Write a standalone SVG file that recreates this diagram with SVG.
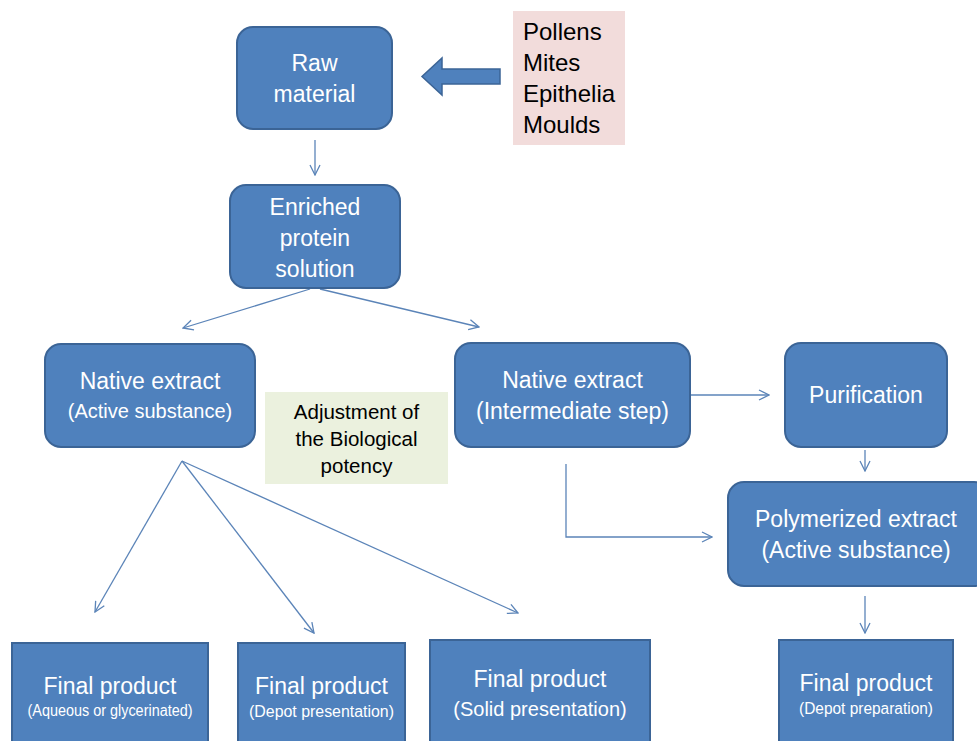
<svg xmlns="http://www.w3.org/2000/svg" width="977" height="741" viewBox="0 0 977 741">
<defs>
<style>
.box{fill:#4F81BD;stroke:#3B6496;stroke-width:2}
.t{fill:#fff;font-family:"Liberation Sans",Arial,sans-serif;font-size:23px;text-anchor:middle}
.s{font-size:16px}
.k{fill:#000;font-family:"Liberation Sans",Arial,sans-serif}
.c{fill:none;stroke:#5B84B8;stroke-width:1.3}
</style>
<marker id="ah" viewBox="0 0 12 12" refX="11" refY="6" markerWidth="12" markerHeight="12" markerUnits="userSpaceOnUse" orient="auto">
<path d="M1,1 L11,6 L1,11" fill="none" stroke="#5B84B8" stroke-width="1.3"/>
</marker>
</defs>
<rect width="977" height="741" fill="#fff"/>

<g id="connectors">
<line class="c" x1="315" y1="140" x2="315" y2="175" marker-end="url(#ah)"/>
<line class="c" x1="310" y1="289" x2="183" y2="328" marker-end="url(#ah)"/>
<line class="c" x1="320" y1="289" x2="479" y2="327" marker-end="url(#ah)"/>
<line class="c" x1="691" y1="395" x2="769" y2="395" marker-end="url(#ah)"/>
<line class="c" x1="865" y1="450" x2="865" y2="471" marker-end="url(#ah)"/>
<polyline class="c" points="566,464 566,537 712,537" marker-end="url(#ah)"/>
<line class="c" x1="865" y1="596" x2="865" y2="633" marker-end="url(#ah)"/>
<line class="c" x1="182" y1="461" x2="95" y2="612" marker-end="url(#ah)"/>
<line class="c" x1="182" y1="461" x2="314" y2="633" marker-end="url(#ah)"/>
<line class="c" x1="182" y1="461" x2="518" y2="613" marker-end="url(#ah)"/>
<path id="block-arrow" d="M500,69 L442,69 L442,58 L422,76.5 L442,95 L442,84 L500,84 Z" fill="#4F81BD" stroke="#3B6496" stroke-width="1.5"/>
</g>

<g id="raw-material">
<rect class="box" x="237" y="27" width="155" height="102" rx="16"/>
<text class="t" x="314.5" y="71">Raw</text>
<text class="t" x="314.5" y="102">material</text>
</g>

<g id="sources">
<rect x="513" y="11" width="112" height="134" fill="#F2DCDB"/>
<text class="k" x="523" y="40" style="font-size:24px">Pollens</text>
<text class="k" x="523" y="71" style="font-size:24px">Mites</text>
<text class="k" x="523" y="102" style="font-size:24px">Epithelia</text>
<text class="k" x="523" y="133" style="font-size:24px">Moulds</text>
</g>

<g id="enriched">
<rect class="box" x="230" y="185" width="170" height="103" rx="16"/>
<text class="t" x="315" y="215">Enriched</text>
<text class="t" x="315" y="246">protein</text>
<text class="t" x="315" y="277">solution</text>
</g>

<g id="native-active">
<rect class="box" x="45" y="344" width="210" height="103" rx="16"/>
<text class="t" x="150" y="389">Native extract</text>
<text class="t" x="150" y="418" style="font-size:20px">(Active substance)</text>
</g>

<g id="adjustment">
<rect x="265" y="392" width="183" height="92" fill="#EBF1DE"/>
<text class="k" x="356.5" y="419" style="font-size:20.5px;text-anchor:middle">Adjustment of</text>
<text class="k" x="356.5" y="446" style="font-size:20.5px;text-anchor:middle">the Biological</text>
<text class="k" x="356.5" y="473" style="font-size:20.5px;text-anchor:middle">potency</text>
</g>

<g id="native-intermediate">
<rect class="box" x="455" y="343" width="235" height="104" rx="16"/>
<text class="t" x="572.5" y="388">Native extract</text>
<text class="t" x="572.5" y="419">(Intermediate step)</text>
</g>

<g id="purification">
<rect class="box" x="785" y="343" width="162" height="104" rx="16"/>
<text class="t" x="866" y="403">Purification</text>
</g>

<g id="polymerized">
<rect class="box" x="728" y="482" width="262" height="104" rx="16"/>
<text class="t" x="856" y="527">Polymerized extract</text>
<text class="t" x="856" y="558">(Active substance)</text>
</g>

<g id="final-aqueous">
<rect class="box" x="12" y="643" width="196" height="110"/>
<text class="t" x="110" y="694">Final product</text>
<text class="t s" x="110" y="716" textLength="165" lengthAdjust="spacingAndGlyphs">(Aqueous or glycerinated)</text>
</g>

<g id="final-depot-presentation">
<rect class="box" x="238" y="643" width="167" height="110"/>
<text class="t" x="321.5" y="694">Final product</text>
<text class="t s" x="321.5" y="717" textLength="145" lengthAdjust="spacingAndGlyphs">(Depot presentation)</text>
</g>

<g id="final-solid">
<rect class="box" x="430" y="640" width="220" height="110"/>
<text class="t" x="540" y="687">Final product</text>
<text class="t" x="540" y="716" style="font-size:20px">(Solid presentation)</text>
</g>

<g id="final-depot-preparation">
<rect class="box" x="779" y="640" width="174" height="110"/>
<text class="t" x="866" y="691">Final product</text>
<text class="t s" x="866" y="714" textLength="134" lengthAdjust="spacingAndGlyphs">(Depot preparation)</text>
</g>
</svg>
